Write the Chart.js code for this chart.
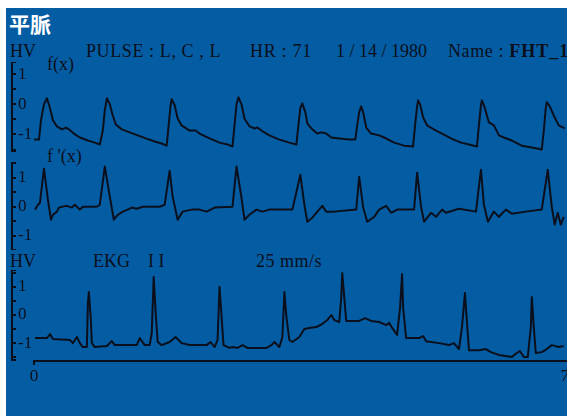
<!DOCTYPE html>
<html>
<head>
<meta charset="utf-8">
<script src="https://cdn.jsdelivr.net/npm/chart.js"></script>
<style>
  html, body { margin: 0; padding: 0; background: #fff; overflow: hidden; }
  body { width: 567px; height: 416px; position: relative; }
  #sheet { position: absolute; left: 6px; top: 8px; width: 561px; height: 408px; background: #045da3; }
  .lbl { position: absolute; white-space: pre; line-height: 1; font-family: "Liberation Serif", "DejaVu Serif", serif;
         font-size: 18px; color: #0b0f1c; }
  .title { position: absolute; left: 9px; top: 13px; white-space: pre; line-height: 1; color: #fff;
           font-family: "Noto Sans CJK JP", "Noto Sans CJK SC", sans-serif; font-size: 21px; font-weight: bold; }
  .panel { position: absolute; left: 0; width: 567px; }
</style>
</head>
<body>
<div id="sheet"></div>
<div class="title">平脈</div>
<div class="lbl" style="left:10px; top:42px">HV</div>
<div class="lbl" style="left:47px; top:55px">f(x)</div>
<div class="lbl" style="left:86px; top:42px; letter-spacing:0.6px">PULSE : L, C , L</div>
<div class="lbl" style="left:250px; top:42px; letter-spacing:0.7px">HR : 71</div>
<div class="lbl" style="left:336px; top:42px">1 / 14 / 1980</div>
<div class="lbl" style="left:448px; top:42px; letter-spacing:0.6px">Name : <b style="letter-spacing:1px">FHT_1</b></div>
<div class="lbl" style="left:47px; top:147px">f '(x)</div>
<div class="lbl" style="left:10px; top:252px">HV</div>
<div class="lbl" style="left:93px; top:252px">EKG    I I</div>
<div class="lbl" style="left:256px; top:252px; letter-spacing:0.5px">25 mm/s</div>

<div class="panel" style="top:62px; height:90px"><canvas id="pulse"></canvas></div>
<div class="panel" style="top:162px; height:88px"><canvas id="deriv"></canvas></div>
<div class="panel" style="top:270px; height:146px"><canvas id="ekg"></canvas></div>

<script>
// time in seconds, amplitude in HV
const xTickValues = [0, 7];
const yTickLabels = [-1, 0, 1];
const yTickMarks = [-1.5, -1, -0.5, 0, 0.5, 1, 1.5];

const fxTime = [0, 0.066, 0.092, 0.132, 0.171, 0.211, 0.25, 0.303, 0.368, 0.421, 0.461, 0.526, 0.605, 0.711, 0.803, 0.868,
  0.908, 0.934, 0.961, 1.0, 1.039, 1.079, 1.158, 1.263, 1.368, 1.474, 1.592, 1.684, 1.75,
  1.776, 1.803, 1.816, 1.855, 1.895, 1.947, 2.053, 2.132, 2.184, 2.316, 2.447, 2.553, 2.618,
  2.645, 2.671, 2.697, 2.737, 2.776, 2.842, 2.908, 2.947, 3.0, 3.105, 3.237, 3.368, 3.461,
  3.487, 3.513, 3.539, 3.579, 3.605, 3.658, 3.737, 3.789, 3.855, 3.921, 4.026, 4.158, 4.237,
  4.263, 4.289, 4.316, 4.342, 4.382, 4.447, 4.553, 4.618, 4.75, 4.882, 5.0,
  5.026, 5.053, 5.066, 5.092, 5.132, 5.184, 5.303, 5.382, 5.5, 5.632, 5.737, 5.842,
  5.868, 5.895, 5.908, 5.947, 6.0, 6.066, 6.132, 6.197, 6.303, 6.434, 6.566, 6.697,
  6.724, 6.75, 6.763, 6.803, 6.855, 6.921, 7.0];
const fxValue = [-1.17, -1.17, -0.53, 0, 0.2, -0.13, -0.53, -0.73, -0.83, -0.77, -0.83, -0.97, -1.1, -1.2, -1.27, -1.33,
  -0.87, -0.2, 0.2, 0, -0.37, -0.67, -0.83, -0.93, -1.03, -1.13, -1.23, -1.3, -1.37,
  -0.7, 0, 0.17, -0.03, -0.47, -0.7, -0.87, -0.87, -0.97, -1.13, -1.27, -1.33, -1.4,
  -0.7, 0, 0.23, 0, -0.47, -0.73, -0.8, -0.77, -0.87, -1.03, -1.17, -1.27, -1.33,
  -0.7, -0.13, 0.03, -0.27, -0.63, -0.8, -0.97, -0.93, -0.97, -1.1, -1.13, -1.17, -1.17,
  -0.7, -0.27, -0.07, -0.27, -0.77, -0.97, -1.03, -1.1, -1.27, -1.37, -1.4,
  -0.7, -0.07, 0.13, 0, -0.43, -0.7, -0.87, -0.97, -1.13, -1.27, -1.33, -1.4,
  -0.7, -0.03, 0.13, -0.13, -0.6, -0.7, -1.03, -1.1, -1.2, -1.37, -1.43, -1.5,
  -0.87, -0.13, 0.07, -0.07, -0.37, -0.7, -0.8];

const dfTime = [0.013, 0.053, 0.079, 0.132, 0.184, 0.224, 0.25, 0.303, 0.329, 0.368, 0.434, 0.5, 0.539, 0.605, 0.645, 0.829, 0.868,
  0.934, 1.0, 1.053, 1.105, 1.171, 1.237, 1.289, 1.355, 1.434, 1.658, 1.724,
  1.789, 1.829, 1.895, 1.961, 2.079, 2.184, 2.276, 2.382, 2.618,
  2.671, 2.737, 2.776, 2.842, 2.934, 3.013, 3.105, 3.197, 3.368, 3.408,
  3.513, 3.566, 3.605, 3.671, 3.737, 3.803, 3.855, 3.961, 4.25,
  4.289, 4.342, 4.395, 4.487, 4.553, 4.645, 4.711, 4.789, 5.013,
  5.053, 5.105, 5.145, 5.237, 5.303, 5.382, 5.434, 5.605, 5.829,
  5.895, 5.934, 5.987, 6.066, 6.132, 6.224, 6.303, 6.487, 6.697,
  6.776, 6.829, 6.868, 6.908, 6.947, 6.987];
const dfValue = [-0.1, 0.07, 0.14, 1.32, 0.24, -0.45, -0.28, -0.17, -0.03, 0, 0.03, -0.03, 0.07, -0.1, 0, 0, 0.07,
  1.39, 0.35, -0.45, -0.28, -0.17, -0.1, -0.03, -0.07, 0, 0, 0.07,
  1.25, 0.35, -0.45, -0.17, -0.1, -0.1, -0.17, -0.03, 0,
  1.39, 0.31, -0.45, -0.28, -0.1, -0.17, -0.1, -0.1, -0.1, -0.1,
  1.11, 0.07, -0.52, -0.38, -0.17, 0.03, -0.17, -0.17, -0.1,
  1.04, -0.03, -0.52, -0.35, -0.1, 0.03, -0.21, -0.1, -0.1,
  1.18, 0, -0.52, -0.21, -0.35, -0.1, -0.21, -0.07, -0.17,
  1.28, 0.07, -0.52, -0.17, -0.35, -0.1, -0.24, -0.17, -0.1,
  1.28, 0, -0.62, -0.21, -0.62, -0.35];

const ekgTime = [0.013, 0.171, 0.211, 0.25, 0.474, 0.513, 0.566, 0.605, 0.645, 0.697, 0.711, 0.724, 0.75, 0.763, 0.803,
  0.961, 1.026, 1.066, 1.355, 1.395, 1.461, 1.526, 1.553, 1.579, 1.605, 1.632, 1.684,
  1.789, 1.868, 1.947, 2.053, 2.276, 2.329, 2.382, 2.421, 2.447, 2.474, 2.5,
  2.579, 2.618, 2.684, 2.75, 2.816, 3.066, 3.132, 3.171, 3.237, 3.276, 3.303, 3.329, 3.368,
  3.408, 3.5, 3.566, 3.632, 3.724, 3.803, 3.868, 3.921, 3.961, 4.026, 4.053, 4.066, 4.092, 4.118,
  4.289, 4.368, 4.447, 4.553, 4.645, 4.684, 4.724, 4.789, 4.829, 4.855, 4.868, 4.908,
  5.079, 5.132, 5.171, 5.342, 5.474, 5.539, 5.605, 5.645, 5.684, 5.711, 5.737,
  5.868, 5.961, 6.026, 6.132, 6.303, 6.368, 6.408, 6.461, 6.513, 6.553, 6.566, 6.592, 6.618,
  6.697, 6.763, 6.829, 6.921, 6.987];
const ekgValue = [-0.82, -0.82, -0.68, -0.85, -0.89, -1.0, -0.78, -1.0, -1.14, -1.14, 0.43, 0.82, -0.18, -1.0, -1.14,
  -1.1, -0.93, -1.07, -1.07, -0.82, -1.07, -1.07, -0.64, 1.35, 0.07, -0.96, -1.07,
  -0.96, -0.78, -1.0, -1.07, -1.07, -0.96, -1.14, -0.89, 1.0, -0.07, -1.07,
  -1.17, -1.14, -1.17, -1.07, -1.17, -1.17, -1.07, -0.96, -1.14, -0.78, 0.82, -0.07, -0.89,
  -0.96, -0.78, -0.5, -0.46, -0.43, -0.32, -0.18, 0, -0.18, -0.25, 0.64, 1.49, 0.64, -0.21,
  -0.21, -0.11, -0.21, -0.25, -0.36, -0.28, -0.46, -0.71, 0.28, 1.46, 0.28, -0.82,
  -0.82, -0.75, -0.93, -1.0, -1.07, -1.0, -1.21, -0.43, 0.78, -0.28, -1.25,
  -1.25, -1.21, -1.32, -1.42, -1.49, -1.35, -1.28, -1.49, -1.49, -0.43, 0.64, -0.43, -1.35,
  -1.32, -1.21, -1.07, -1.14, -1.1];

const ink = '#0b0f1c';
const serif = '"Liberation Serif", "DejaVu Serif", serif';

// x axis line of the bottom trace starts at t = 0, not at the amplitude axis
const timeBaseline = {
  id: 'timeBaseline',
  afterDraw(chart) {
    const { ctx, chartArea, scales } = chart;
    const x0 = scales.x.getPixelForValue(xTickValues[0]);
    const y = chartArea.bottom + 1;
    ctx.save();
    ctx.strokeStyle = ink;
    ctx.lineWidth = 2;
    ctx.beginPath();
    ctx.moveTo(x0, y + 4);
    ctx.lineTo(x0, y);
    ctx.lineTo(chartArea.right, y);
    ctx.stroke();
    ctx.restore();
  }
};

function noPad(scale) {
  scale.paddingTop = 0;
  scale.paddingBottom = 0;
  scale.paddingLeft = 0;
  scale.paddingRight = 0;
}

function trace(id, times, values, yMin, yMax, showTime) {
  const points = times.map((t, i) => ({ x: t, y: values[i] }));
  return new Chart(document.getElementById(id), {
    type: 'line',
    data: {
      datasets: [{
        data: points,
        borderColor: ink,
        borderWidth: 2,
        borderJoinStyle: 'round',
        pointRadius: 0,
        tension: 0,
        clip: false,
      }],
    },
    options: {
      responsive: true,
      maintainAspectRatio: false,
      animation: false,
      events: [],
      layout: { padding: 0, autoPadding: false },
      plugins: { legend: { display: false }, tooltip: { enabled: false } },
      scales: {
        x: {
          type: 'linear',
          display: showTime,
          min: -0.29,
          max: 7.03,
          afterFit(scale) {
            noPad(scale);
            if (showTime) scale.height = 56;
          },
          afterBuildTicks(scale) { scale.ticks = xTickValues.map(v => ({ value: v })); },
          border: { display: false },
          grid: { display: false, drawTicks: false },
          ticks: {
            color: ink,
            padding: 6,
            autoSkip: false,
            maxRotation: 0,
            font: { family: serif, size: 17 },
          },
        },
        y: {
          min: yMin,
          max: yMax,
          position: 'left',
          afterFit(scale) {
            noPad(scale);
            scale.width = 12;
          },
          // end caps at the axis limits plus a mark every half unit
          afterBuildTicks(scale) {
            const marks = yTickMarks.filter(v => v > yMin && v < yMax);
            scale.ticks = [yMin, ...marks, yMax].map(v => ({ value: v }));
          },
          border: { color: ink, width: 2 },
          grid: { drawOnChartArea: false, drawTicks: true, tickLength: -4, color: ink, lineWidth: 2 },
          ticks: {
            autoSkip: false,
            mirror: true,
            padding: 6,
            color: ink,
            font: { family: serif, size: 17 },
            callback: v => (yTickLabels.includes(v) ? String(v) : ''),
          },
        },
      },
    },
    plugins: showTime ? [timeBaseline] : [],
  });
}

trace('pulse', fxTime, fxValue, -1.58, 1.4, false);
trace('deriv', dfTime, dfValue, -1.5, 1.55, false);
trace('ekg', ekgTime, ekgValue, -1.6, 1.6, true);
</script>
</body>
</html>
